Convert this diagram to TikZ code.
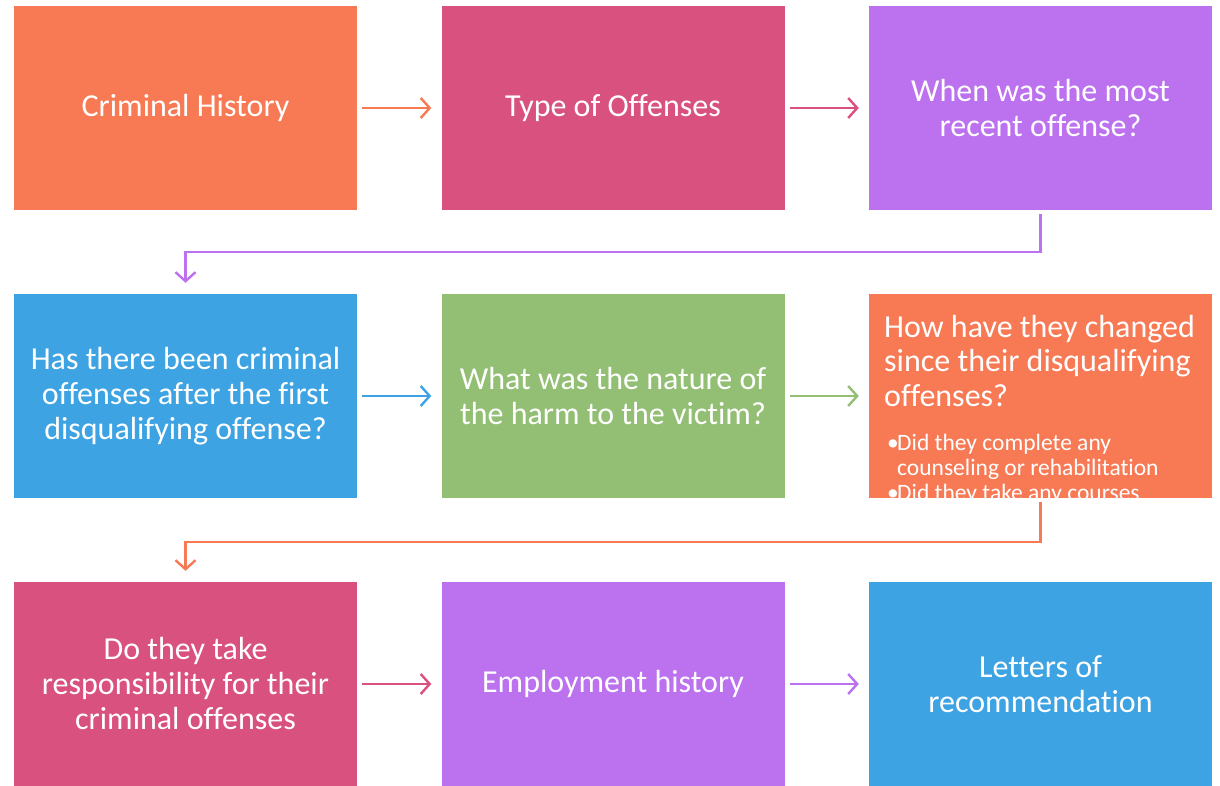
\documentclass[tikz,border=0pt]{standalone}
\usepackage{fontspec}
\setmainfont{Carlito}[Ligatures={NoCommon}]
\usetikzlibrary{arrows.meta,calc}
\definecolor{corange}{HTML}{F77A55}
\definecolor{cpink}{HTML}{D9517E}
\definecolor{cpurple}{HTML}{BC71EE}
\definecolor{cblue}{HTML}{3EA3E3}
\definecolor{cgreen}{HTML}{93BF75}
\begin{document}
\begin{tikzpicture}[x=1pt,y=-1pt,
  box/.style={minimum width=343pt,minimum height=204pt,inner sep=0pt,text=white,align=center,
    font=\fontsize{32}{35}\selectfont},
  big/.style={anchor=base west,inner sep=0pt,text=white,font=\fontsize{32}{35}\selectfont},
  small/.style={anchor=base west,inner sep=0pt,text=white,font=\fontsize{23.5}{25}\selectfont},
  conn/.style={line width=2.4pt,-{Straight Barb[length=9pt,width=20pt,line width=2.4pt]}},
]
\useasboundingbox (0,0) rectangle (1220,786);
% row 1
\node[box,fill=corange] (a1) at (185.5,108) {Criminal History};
\node[box,fill=cpink] (a2) at (613,108) {Type of Offenses};
\node[box,fill=cpurple] (a3) at (1040.5,108) {When was the most\\recent offense?};
% row 2
\node[box,fill=cblue] (b1) at (185.5,396) {Has there been criminal\\offenses after the first\\disqualifying offense?};
\node[box,fill=cgreen] (b2) at (613,396) {What was the nature of\\the harm to the victim?};
\node[box,fill=corange] (b3) at (1040.5,396) {};
\begin{scope}
\clip (b3.north west) rectangle (b3.south east);
\node[big] (t1) at (884,337) {How have they changed};
\node[big] (t2) at (884,371) {since their disqualifying};
\node[big] (t3) at (884,406) {offenses?};
\node[small] (u0) at (887,450) {\textbullet};
\node[small] (u1) at (897,450) {Did they complete any};
\node[small] (u2) at (897,475) {counseling or rehabilitation};
\node[small] (v0) at (887,500) {\textbullet};
\node[small] (v1) at (897,500) {Did they take any courses};
\end{scope}
% row 3
\node[box,fill=cpink] (c1) at (185.5,684) {Do they take\\responsibility for their\\criminal offenses};
\node[box,fill=cpurple] (c2) at (613,684) {Employment history};
\node[box,fill=cblue] (c3) at (1040.5,684) {Letters of\\recommendation};
% connectors
\draw[conn,draw=corange,shorten <=5pt,shorten >=10pt] (a1.east) -- (a2.west);
\draw[conn,draw=cpink,shorten <=5pt,shorten >=10pt] (a2.east) -- (a3.west);
\draw[conn,draw=cblue,shorten <=5pt,shorten >=10pt] (b1.east) -- (b2.west);
\draw[conn,draw=cgreen,shorten <=5pt,shorten >=10pt] (b2.east) -- (b3.west);
\draw[conn,draw=cpink,shorten <=5pt,shorten >=10pt] (c1.east) -- (c2.west);
\draw[conn,draw=cpurple,shorten <=5pt,shorten >=10pt] (c2.east) -- (c3.west);
\coordinate (k1) at ($(a3.south)+(0,42)$);
\draw[conn,draw=cpurple,shorten <=4pt,shorten >=11pt] (a3.south) -- (k1) -| (b1.north);
\coordinate (k2) at ($(b3.south)+(0,44)$);
\draw[conn,draw=corange,shorten <=4pt,shorten >=11pt] (b3.south) -- (k2) -| (c1.north);
\end{tikzpicture}
\end{document}
